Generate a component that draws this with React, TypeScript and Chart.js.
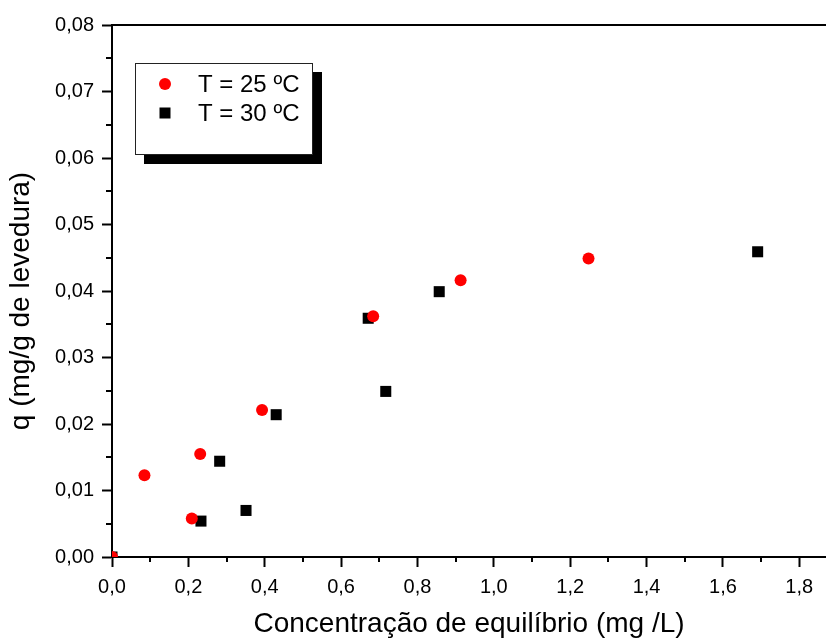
import React, { useEffect, useRef } from "react";
import { Chart, registerables } from "chart.js";

Chart.register(...registerables);

// Equilibrium concentration (mg/L) and uptake q (mg/g de levedura)
const conc25 = [0, 0.085, 0.209, 0.231, 0.393, 0.684, 0.913, 1.248];
const q25 = [0, 0.0123, 0.0058, 0.0155, 0.0221, 0.0362, 0.0416, 0.0449];

const conc30 = [0, 0.233, 0.282, 0.351, 0.430, 0.671, 0.717, 0.857, 1.691];
const q30 = [0, 0.0054, 0.0144, 0.0070, 0.0214, 0.0359, 0.0249, 0.0399, 0.0459];

const seriesLabels = ["T = 25 ºC", "T = 30 ºC"];
const xTitle = "Concentração de equilíbrio (mg /L)";
const yTitle = "q (mg/g de levedura)";

const FONT = "'Liberation Sans', Arial, Helvetica, sans-serif";

const toPoints = (xs: number[], ys: number[]) => xs.map((x, i) => ({ x, y: ys[i] }));

// Minor ticks halfway between the major ticks, the top frame line and the y title
const frameAndMinorTicks = {
  id: "frameAndMinorTicks",
  afterDatasetsDraw(chart: any) {
    const { ctx, chartArea } = chart;
    const xs = chart.scales.x;
    const ys = chart.scales.y;
    ctx.save();
    ctx.strokeStyle = "#000";
    ctx.lineWidth = 2;
    ctx.beginPath();
    ctx.moveTo(chartArea.left - 1, chartArea.top);
    ctx.lineTo(chartArea.right, chartArea.top);
    ctx.stroke();

    const minor = 5;
    const xt = xs.ticks.map((t: any) => t.value);
    const xStep = xt[1] - xt[0];
    ctx.beginPath();
    for (let v = xt[0] + xStep / 2; v <= xs.max + 1e-9; v += xStep) {
      const px = Math.round(xs.getPixelForValue(v));
      ctx.moveTo(px, chartArea.bottom);
      ctx.lineTo(px, chartArea.bottom + minor);
    }
    const yt = ys.ticks.map((t: any) => t.value);
    const yStep = yt[1] - yt[0];
    for (let v = yt[0] + yStep / 2; v <= ys.max + 1e-9; v += yStep) {
      const py = Math.round(ys.getPixelForValue(v));
      ctx.moveTo(chartArea.left, py);
      ctx.lineTo(chartArea.left - minor - 1, py);
    }
    ctx.stroke();

    // rotated y-axis title, sitting slightly below the plot's middle
    ctx.translate(21, (chartArea.top + chartArea.bottom) / 2 + 10);
    ctx.rotate(-Math.PI / 2);
    ctx.fillStyle = "#000";
    ctx.font = `28px ${FONT}`;
    ctx.textAlign = "center";
    ctx.textBaseline = "middle";
    ctx.fillText(yTitle, 0, 0);
    ctx.restore();
  },
};

// Boxed legend with a drop shadow inside the plot
const boxedLegend = {
  id: "boxedLegend",
  afterDraw(chart: any) {
    const { ctx, chartArea } = chart;
    const left = chartArea.left + 23;
    const top = chartArea.top + 38;
    const w = 178;
    const h = 92;
    const sh = 9;
    ctx.save();
    ctx.fillStyle = "#000";
    ctx.fillRect(left + sh, top + sh, w, h);
    ctx.fillStyle = "#fff";
    ctx.fillRect(left, top, w, h);
    ctx.strokeStyle = "#222";
    ctx.lineWidth = 1;
    ctx.strokeRect(left + 0.5, top + 0.5, w - 1, h - 1);

    chart.data.datasets.forEach((ds: any, i: number) => {
      const cy = top + 21 + i * 29;
      const cx = left + 30;
      ctx.fillStyle = ds.backgroundColor;
      if (ds.pointStyle === "circle") {
        ctx.beginPath();
        ctx.arc(cx, cy, 6, 0, Math.PI * 2);
        ctx.fill();
      } else {
        ctx.fillRect(cx - 5.5, cy - 5.5, 11, 11);
      }
      ctx.fillStyle = "#000";
      ctx.font = `24px ${FONT}`;
      ctx.textBaseline = "middle";
      ctx.textAlign = "left";
      ctx.fillText(ds.label, left + 63, cy + 1);
    });
    ctx.restore();
  },
};

export default function App() {
  const ref = useRef<HTMLCanvasElement | null>(null);

  useEffect(() => {
    if (!ref.current) return;
    const chart = new Chart(ref.current, {
      type: "scatter",
      data: {
        datasets: [
          {
            label: seriesLabels[0],
            data: toPoints(conc25, q25),
            pointStyle: "circle",
            pointRadius: 6,
            pointHoverRadius: 6,
            backgroundColor: "#ff0000",
            borderColor: "#ff0000",
            borderWidth: 0,
            clip: 0,
          },
          {
            label: seriesLabels[1],
            data: toPoints(conc30, q30),
            pointStyle: "rect",
            pointRadius: 7.8,
            pointHoverRadius: 7.8,
            backgroundColor: "#000000",
            borderColor: "#000000",
            borderWidth: 0,
            clip: 0,
          },
        ],
      },
      options: {
        animation: false,
        responsive: false,
        maintainAspectRatio: false,
        layout: { autoPadding: false, padding: { top: 25, right: 0, bottom: 0, left: 0 } },
        plugins: {
          legend: { display: false },
          tooltip: { enabled: false },
        },
        scales: {
          x: {
            type: "linear",
            min: 0,
            max: 1.87,
            afterFit: (s: any) => {
              s.height = 84;
              s.paddingLeft = 0;
              s.paddingRight = 0;
            },
            border: { display: true, color: "#000", width: 2 },
            grid: {
              display: true,
              drawOnChartArea: false,
              drawTicks: true,
              tickLength: 10,
              tickWidth: 2,
              tickColor: "#000",
              color: "#000",
            },
            ticks: {
              stepSize: 0.2,
              includeBounds: false,
              color: "#000",
              padding: 8,
              maxRotation: 0,
              font: { family: FONT, size: 20 },
              callback: (v: any) => Number(v).toFixed(1).replace(".", ","),
            },
            title: {
              display: true,
              text: xTitle,
              color: "#000",
              font: { family: FONT, size: 28 },
              padding: { top: 0, bottom: 0 },
            },
          },
          y: {
            type: "linear",
            min: 0,
            max: 0.08,
            afterFit: (s: any) => {
              s.width = 112;
              s.paddingTop = 0;
              s.paddingBottom = 0;
            },
            border: { display: true, color: "#000", width: 2 },
            grid: {
              display: true,
              drawOnChartArea: false,
              drawTicks: true,
              tickLength: 10,
              tickWidth: 2,
              tickColor: "#000",
              color: "#000",
            },
            ticks: {
              stepSize: 0.01,
              color: "#000",
              padding: 8,
              font: { family: FONT, size: 20 },
              callback: (v: any) => Number(v).toFixed(2).replace(".", ","),
            },
            title: { display: false },
          },
        },
      },
      plugins: [frameAndMinorTicks, boxedLegend],
    });
    return () => chart.destroy();
  }, []);

  return (
    <div style={{ position: "fixed", left: 0, top: 0, width: 826, height: 641, background: "#fff" }}>
      <canvas ref={ref} width={826} height={641} style={{ display: "block" }} />
    </div>
  );
}
